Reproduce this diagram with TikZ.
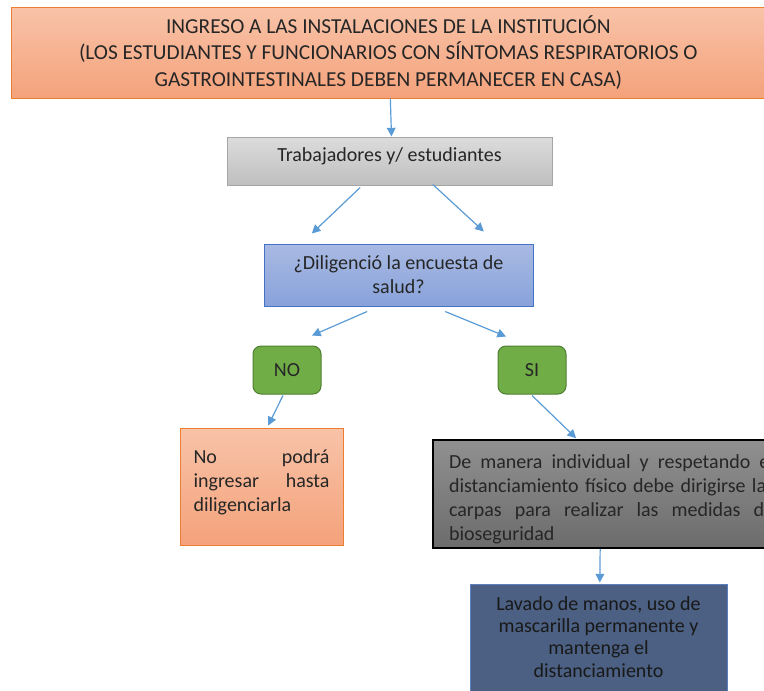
\documentclass[tikz,border=0pt]{standalone}
\usepackage{fontspec}
\setmainfont{Carlito}
\usetikzlibrary{arrows.meta}
\definecolor{arrowblue}{HTML}{5B9BD5}
\definecolor{orangeline}{HTML}{ED7D31}
\definecolor{orangetop}{HTML}{F8C3A8}
\definecolor{orangebot}{HTML}{F4A27B}
\definecolor{graytop}{HTML}{DCDCDC}
\definecolor{graybot}{HTML}{BFBFBF}
\definecolor{grayline}{HTML}{A5A5A5}
\definecolor{bluetop}{HTML}{A9BAE3}
\definecolor{bluebot}{HTML}{88A2DA}
\definecolor{blueline}{HTML}{4472C4}
\definecolor{greenfill}{HTML}{70AD47}
\definecolor{greenline}{HTML}{507E32}
\definecolor{darktop}{HTML}{909090}
\definecolor{darkbot}{HTML}{6C6C6C}
\definecolor{navyfill}{HTML}{4B6082}
\definecolor{navyline}{HTML}{5B7FC0}
\begin{document}
\begin{tikzpicture}[x=0.75pt, y=-0.75pt, font=\fontsize{15}{18}\selectfont,
  box/.style={draw, line width=0.75pt, text=black!85, align=center, inner sep=3pt},
  orangebox/.style={box, draw=orangeline, top color=orangetop, bottom color=orangebot},
  graybox/.style={box, draw=grayline, top color=graytop, bottom color=graybot},
  bluebox/.style={box, draw=blueline, top color=bluetop, bottom color=bluebot},
  answer/.style={box, draw=greenline, fill=greenfill, rounded corners=6pt,
    minimum width=51pt, minimum height=36pt},
  link/.style={-{Triangle[length=6.5pt,width=6.5pt]}, draw=arrowblue, line width=0.9pt}]
\useasboundingbox (0,0) rectangle (764,690);
% boxes, top to bottom
\node[orangebox, minimum width=572pt, minimum height=68.25pt,
  font=\fontsize{16}{20}\selectfont] (ingreso) at (393,52.5)
  {\hspace*{-7pt}INGRESO A LAS INSTALACIONES DE LA INSTITUCIÓN\\
   \hspace*{-7pt}(LOS ESTUDIANTES Y FUNCIONARIOS CON SÍNTOMAS RESPIRATORIOS O\\
   \hspace*{-7pt}GASTROINTESTINALES DEBEN PERMANECER EN CASA)};
\node[graybox, minimum width=243.75pt, minimum height=36pt, text depth=9pt]
  (trab) at (389.5,161) {Trabajadores y/ estudiantes};
\node[bluebox, minimum width=201.75pt, minimum height=46.5pt]
  (encuesta) at (398.5,275) {¿Diligenció la encuesta de\\ salud?};
\node[answer] (no) at (287,370) {NO};
\node[answer] (si) at (532,370) {SI};
\node[orangebox, minimum width=122.25pt, minimum height=87.75pt,
  text width=102pt, align=justify, text depth=45.5pt]
  (noing) at (261.5,486.5) {No podrá\linebreak ingresar hasta\linebreak diligenciarla};
\node[box, draw=black, line width=1.1pt, top color=darktop, bottom color=darkbot,
  minimum width=267.75pt, minimum height=78pt, text width=243.75pt, align=justify,
  text height=18.5pt] (manera) at (611.5,494)
  {De manera individual y respetando el\linebreak
   distanciamiento físico debe dirigirse las\linebreak
   carpas para realizar las medidas de\linebreak
   bioseguridad};
\node[box, draw=navyline, fill=navyfill, text=black!90, minimum width=192.75pt,
  minimum height=90pt, text depth=11pt, font=\fontsize{15}{16.75}\selectfont]
  (lavado) at (598.5,644)
  {Lavado de manos, uso de\\ mascarilla permanente y\\ mantenga el\\ distanciamiento};
% connectors
\draw[link] ([xshift=-2pt]ingreso.south) -- ([xshift=1.5pt]trab.north);
\draw[link] ([xshift=-22pt,yshift=-1.5pt]trab.south) -- ([xshift=-65pt,yshift=7.5pt]encuesta.north);
\draw[link] ([xshift=32.5pt,yshift=0.75pt]trab.south) -- ([xshift=64pt,yshift=9pt]encuesta.north);
\draw[link] ([xshift=-23.5pt,yshift=-3.75pt]encuesta.south) -- ([xshift=18.75pt,yshift=7.5pt]no.north);
\draw[link] ([xshift=35pt,yshift=-3.75pt]encuesta.south) -- ([xshift=-19.5pt,yshift=6.75pt]si.north);
\draw[link] ([xshift=-3pt,yshift=-0.75pt]no.south) -- ([xshift=5pt,yshift=1.5pt]noing.north);
\draw[link] ([yshift=-0.75pt]si.south) -- ([xshift=-26.5pt,yshift=0.75pt]manera.north);
\draw[link] ([xshift=-8.5pt]manera.south) -- ([xshift=1pt,yshift=0.75pt]lavado.north);
\end{tikzpicture}
\end{document}
